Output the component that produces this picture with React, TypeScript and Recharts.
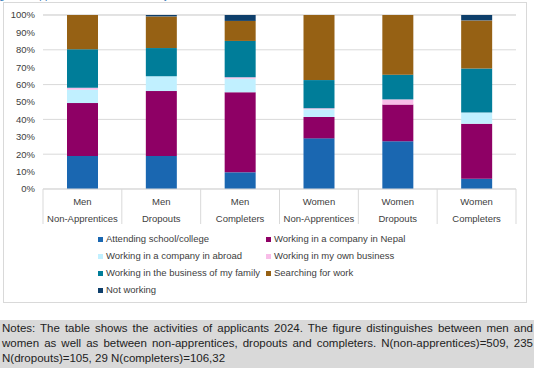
import { BarChart, Bar, XAxis, YAxis, CartesianGrid, Legend } from "recharts";

const genders = ["Men", "Men", "Men", "Women", "Women", "Women"];
const groups = ["Non-Apprentices", "Dropouts", "Completers", "Non-Apprentices", "Dropouts", "Completers"];

// shares in percent
const attending = [19.0, 19.0, 9.6, 29.1, 27.4, 5.9];
const companyNepal = [30.4, 37.3, 46.0, 12.3, 21.1, 31.6];
const companyAbroad = [7.7, 8.5, 7.8, 4.4, 0, 6.4];
const ownBusiness = [1.1, 0, 0.8, 0.6, 3.0, 0];
const familyBusiness = [22.1, 16.2, 20.9, 16.2, 14.2, 25.3];
const searching = [19.7, 18.2, 11.5, 37.4, 34.3, 27.7];
const notWorking = [0, 0.8, 3.4, 0, 0, 3.1];

const yTicks = [0, 10, 20, 30, 40, 50, 60, 70, 80, 90, 100];

const series = [
  { key: "attending", name: "Attending school/college", values: attending, color: "#1A67B1" },
  { key: "companyNepal", name: "Working in a company in Nepal", values: companyNepal, color: "#8E0065" },
  { key: "companyAbroad", name: "Working in a company in abroad", values: companyAbroad, color: "#C1F0FF" },
  { key: "ownBusiness", name: "Working in my own business", values: ownBusiness, color: "#F8BDE8" },
  { key: "familyBusiness", name: "Working in the business of my family", values: familyBusiness, color: "#007D99" },
  { key: "searching", name: "Searching for work", values: searching, color: "#966114" },
  { key: "notWorking", name: "Not working", values: notWorking, color: "#0E3F6B" },
];

const data = groups.map((g, i) => {
  const row: any = { id: String(i), gender: genders[i], group: g };
  series.forEach((s) => (row[s.key] = s.values[i]));
  return row;
});

const FONT = "'Liberation Sans', Arial, sans-serif";
const TEXT = "#404040";
const GRID = "#D9D9D9";
const BAND = (534 - 43 - 18) / 6;

function CategoryTick({ x, y, payload, index }: any) {
  const row = data[Number(payload.value)];
  return (
    <g>
      <line x1={x - BAND / 2} y1={y} x2={x - BAND / 2} y2={y + 35} stroke={GRID} />
      {index === data.length - 1 && (
        <line x1={x + BAND / 2} y1={y} x2={x + BAND / 2} y2={y + 35} stroke={GRID} />
      )}
      <text x={x} y={y + 15.5} textAnchor="middle" fontSize={9.5} fill={TEXT} fontFamily={FONT}>
        {row.gender}
      </text>
      <text x={x} y={y + 32.5} textAnchor="middle" fontSize={9.5} fill={TEXT} fontFamily={FONT}>
        {row.group}
      </text>
    </g>
  );
}

function LegendBox() {
  return (
    <div style={{ position: "relative", width: 534, height: 80, fontFamily: FONT, fontSize: 9.5, color: TEXT }}>
      {series.map((s, i) => {
        const col = i % 2;
        const row = Math.floor(i / 2);
        return (
          <div
            key={s.key}
            style={{
              position: "absolute",
              left: col === 0 ? 98 : 266,
              top: 8 + row * 17,
              height: 12,
              lineHeight: "12px",
              whiteSpace: "nowrap",
              display: "flex",
              alignItems: "center",
            }}
          >
            <span style={{ display: "inline-block", width: 5, height: 5, background: s.color, marginRight: 3 }} />
            {s.name}
          </div>
        );
      })}
    </div>
  );
}

export default function App() {
  return (
    <div style={{ position: "fixed", left: 0, top: 0, width: 534, height: 368, background: "#fff", overflow: "hidden" }}>
      <div
        style={{
          position: "absolute",
          left: -9,
          top: -9,
          fontFamily: FONT,
          fontSize: 10,
          lineHeight: "10px",
          color: "#2E75B6",
          whiteSpace: "nowrap",
        }}
      >
        Figure 1: Applicants' current activities by
      </div>
      <div
        style={{
          position: "absolute",
          left: 3,
          top: 2,
          width: 524,
          height: 301,
          border: "1px solid #D9D9D9",
          boxSizing: "border-box",
        }}
      />
      <div style={{ position: "absolute", left: 0, top: 0 }}>
        <BarChart width={534} height={305} data={data} margin={{ top: 15, right: 18, bottom: 0, left: 0 }} barSize={31}>
          <CartesianGrid vertical={false} stroke={GRID} />
          <XAxis
            dataKey="id"
            height={36}
            tickSize={0}
            tickMargin={0}
            axisLine={{ stroke: GRID }}
            tickLine={false}
            tick={<CategoryTick />}
            interval={0}
          />
          <YAxis
            width={43}
            domain={[0, 100]}
            ticks={yTicks}
            tickFormatter={(v) => `${v}%`}
            axisLine={false}
            tickLine={false}
            tickSize={0}
            tickMargin={8}
            tick={{ fontSize: 9.5, fill: TEXT, fontFamily: FONT }}
          />
          <Legend verticalAlign="bottom" wrapperStyle={{ left: 0 }} content={<LegendBox />} />
          {series.map((s) => (
            <Bar key={s.key} dataKey={s.key} name={s.name} stackId="a" fill={s.color} isAnimationActive={false} />
          ))}
        </BarChart>
      </div>
      <div
        style={{
          position: "absolute",
          left: 0,
          top: 320,
          width: 534,
          height: 48,
          background: "#D9D9D9",
          fontFamily: FONT,
          fontSize: 11.5,
          lineHeight: "15px",
          color: "#222",
          boxSizing: "border-box",
          padding: "1px 1px 0 2px",
        }}
      >
        <div style={{ textAlign: "justify", textAlignLast: "justify", whiteSpace: "nowrap" }}>
          Notes: The table shows the activities of applicants 2024. The figure distinguishes between men and
        </div>
        <div style={{ textAlign: "justify", textAlignLast: "justify", whiteSpace: "nowrap" }}>
          women as well as between non-apprentices, dropouts and completers. N(non-apprentices)=509, 235
        </div>
        <div style={{ whiteSpace: "nowrap" }}>N(dropouts)=105, 29 N(completers)=106,32</div>
      </div>
    </div>
  );
}
